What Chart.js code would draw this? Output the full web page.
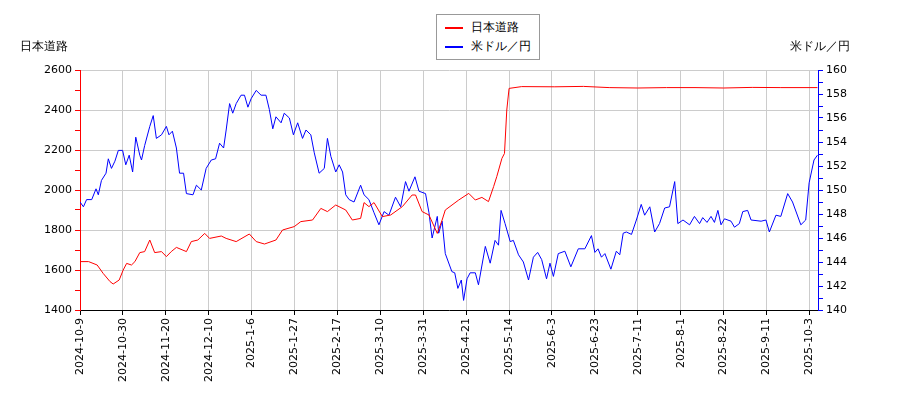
<!DOCTYPE html>
<html><head><meta charset="utf-8">
<script src="https://cdn.jsdelivr.net/npm/chart.js@4"></script>
<style>
body{margin:0;background:#fff;font-family:"DejaVu Sans",sans-serif;}
#wrap{position:relative;width:900px;height:400px;}
.lab{position:absolute;font-size:12px;color:#000;}
#legend{position:absolute;left:436px;top:14px;border:1px solid #999;padding:3px 8px;font-size:12px;line-height:19px;background:#fff;}
.sw{display:inline-block;width:18px;height:2px;vertical-align:middle;margin-right:8px;}
</style></head><body>
<div id="wrap">
<canvas id="c" width="900" height="400"></canvas>
<div class="lab" style="left:20px;top:38px">日本道路</div>
<div class="lab" style="left:790px;top:38px">米ドル／円</div>
<div id="legend"><div><span class="sw" style="background:red"></span>日本道路</div><div><span class="sw" style="background:blue"></span>米ドル／円</div></div>
</div>
<script>
const tickLabels = ["2024-10-9","2024-10-30","2024-11-20","2024-12-10","2025-1-6","2025-1-27","2025-2-17","2025-3-10","2025-3-31","2025-4-21","2025-5-14","2025-6-3","2025-6-23","2025-7-11","2025-8-1","2025-8-22","2025-9-11","2025-10-3"];

// trading-day index and price
const stockIdx = [0,3,6,8.1,10.5,11.6,13.7,15.1,16.3,18,19.2,20.9,22.6,24.4,26.1,28.5,30.2,31.9,33.7,37.2,38.9,41.2,43.6,45.3,49.4,51.1,54.6,59.2,61.6,64.5,68.5,70.8,74.9,77.2,81.3,84.2,86.5,89.4,92.9,95.2,98.1,99.3,101,102.8,105.7,108.6,112.7,116.1,117.3,119.6,122,124.9,126.6,127.7,132.4,135.9,138.2,140.5,142.8,144.6,145.7,147.5,148.4,149.2,150,154.4,166,176,185,195,205,215,225,235,245,257.8];
const stockVal = [1642,1642,1625,1583,1542,1530,1550,1600,1633,1625,1642,1687,1692,1750,1687,1692,1667,1692,1713,1692,1742,1750,1783,1758,1770,1758,1742,1780,1742,1730,1750,1800,1817,1842,1850,1908,1892,1925,1900,1850,1858,1937,1917,1937,1867,1875,1917,1975,1975,1892,1875,1783,1850,1900,1950,1983,1950,1963,1942,2017,2067,2158,2183,2400,2508,2517,2516,2518,2512,2510,2512,2512,2510,2513,2512,2512];

const fxIdx = [0,1.2,2.3,4.1,5.6,6.4,7.5,9.1,9.9,11,12.2,13.4,14.9,16,17.2,18.4,19.5,20.9,21.5,22.6,24.4,25.6,26.7,28.5,30.2,31.1,32.3,33.7,34.8,36.2,37.2,39.5,40.7,42.4,44.1,45.9,47.4,48.8,50.2,51.1,52.3,53.4,54.6,56.3,57.5,58.7,59.8,61.6,63.3,65,66.2,67.4,68.5,70.3,71.4,73.2,74.6,76.1,77.8,79,80.7,81.9,83.6,85.4,86.5,87.7,89.4,90.6,91.8,92.9,94.1,95.8,98.1,99.3,101,102.8,104.5,106.3,108,110.3,112.1,113.8,115,117.1,118.5,120.8,122,123.1,124.9,125.4,126.6,127.7,130,131,132.1,133.3,134.1,135.3,136.4,138.2,139.3,141.7,143.4,145.1,146.3,147.2,148.6,150.4,151.5,153.3,155,156.8,158.5,160,161.4,163.1,164.3,165.5,167.2,169.5,171.6,174.2,176.5,178.8,180,181.1,182.3,183.5,185.6,187.5,188.7,189.9,191,192.8,194.5,196.2,197.4,199.2,200.9,202.6,204.4,206.1,207.9,209,210.8,213.1,214.8,216.6,217.7,219.2,220.6,221.8,223,224.1,225.3,227.6,228.8,230.5,231.7,233.4,234.6,238.1,239.8,241,243.3,245,247.4,249.1,252,253.7,254.9,256.6,257.8];
const fxVal = [149.0,148.6,149.2,149.2,150.1,149.6,150.8,151.4,152.6,151.8,152.4,153.3,153.3,152.1,152.9,151.5,154.4,152.9,152.5,153.7,155.3,156.2,154.3,154.6,155.3,154.6,154.9,153.5,151.4,151.4,149.7,149.6,150.4,150.0,151.8,152.5,152.6,153.9,153.5,155.0,157.2,156.4,157.2,157.9,157.9,156.9,157.6,158.3,157.9,157.9,156.7,155.1,156.1,155.6,156.4,156.0,154.6,155.6,154.3,155.0,154.6,153.1,151.4,151.8,154.3,152.8,151.5,152.1,151.5,149.6,149.2,149.0,150.4,149.6,149.2,148.1,147.1,148.2,147.9,149.4,148.6,150.7,149.9,151.1,149.9,149.7,148.1,146.0,147.8,146.4,147.4,144.7,143.2,143.1,141.8,142.5,140.8,142.6,143.1,143.1,142.1,145.3,143.9,145.8,145.4,148.3,147.2,145.7,145.8,144.6,144.0,142.5,144.4,144.8,144.2,142.6,143.9,142.8,144.7,144.9,143.6,145.1,145.1,146.2,144.8,145.1,144.4,144.7,143.4,144.9,144.6,146.4,146.5,146.3,147.5,148.8,147.9,148.6,146.5,147.2,148.5,148.6,150.7,147.2,147.5,147.1,147.8,147.2,147.7,147.3,147.8,147.3,148.3,147.1,147.6,147.4,146.9,147.2,148.2,148.3,147.5,147.4,147.5,146.5,147.9,147.8,149.7,149.0,147.1,147.5,150.6,152.5,152.9];

const pts = (xs, ys) => xs.map((x, i) => ({x: x, y: ys[i]}));
const font = {family: "DejaVu Sans", size: 11};

new Chart(document.getElementById('c'), {
  type: 'line',
  data: {
    datasets: [
      {label: '日本道路', data: pts(stockIdx, stockVal), borderColor: 'red', borderWidth: 1, pointRadius: 0, yAxisID: 'y', tension: 0},
      {label: '米ドル／円', data: pts(fxIdx, fxVal), borderColor: 'blue', borderWidth: 1, pointRadius: 0, yAxisID: 'y2', tension: 0}
    ]
  },
  options: {
    responsive: false,
    animation: false,
    layout: {padding: {top: 70, left: 0, right: 0, bottom: 0}},
    plugins: {legend: {display: false}, tooltip: {enabled: false}},
    scales: {
      x: {
        type: 'linear', min: 0, max: 258,
        afterBuildTicks: s => { s.ticks = tickLabels.map((_, i) => ({value: i * 15})); },
        afterFit: s => { s.height = 90; },
        ticks: {font: font, color: '#000', minRotation: 90, maxRotation: 90, autoSkip: false,
          callback: v => tickLabels[Math.round(v / 15)]},
        grid: {color: '#ccc', tickLength: 5, tickColor: '#000'},
        border: {color: '#000'}
      },
      y: {
        position: 'left', min: 1400, max: 2600,
        afterFit: s => { s.width = 80; },
        ticks: {stepSize: 100, font: font, color: '#000', autoSkip: false,
          callback: v => v % 200 === 0 ? v : ''},
        grid: {color: c => c.tick.value % 200 === 0 ? '#ccc' : 'rgba(0,0,0,0)', tickColor: 'red', tickLength: 5},
        border: {color: 'red'}
      },
      y2: {
        position: 'right', min: 140, max: 160,
        afterFit: s => { s.width = 82; },
        ticks: {stepSize: 1, font: font, color: '#000', autoSkip: false,
          callback: v => v % 2 === 0 ? v : ''},
        grid: {drawOnChartArea: false, tickColor: 'blue', tickLength: 5},
        border: {color: 'blue'}
      }
    }
  }
});
</script>
</body></html>
